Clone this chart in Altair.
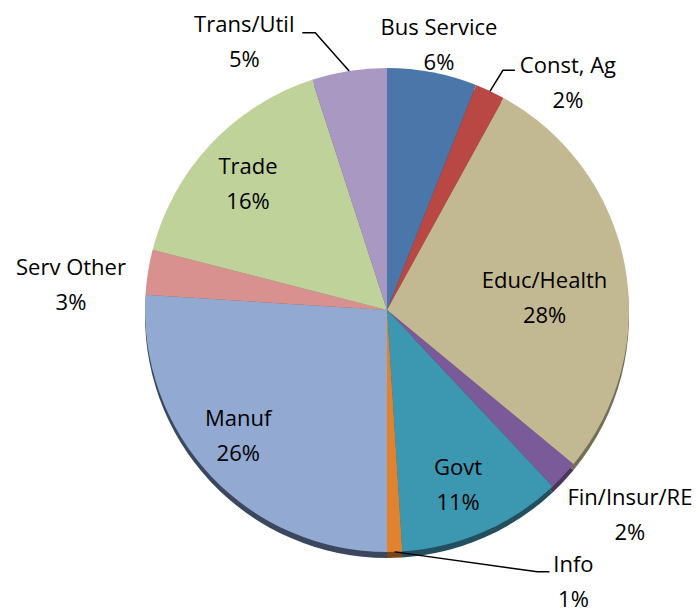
import math
import altair as alt
import pandas as pd

# ---- data ----
categories = ["Bus Service", "Const, Ag", "Educ/Health", "Fin/Insur/RE", "Govt",
              "Info", "Manuf", "Serv Other", "Trade", "Trans/Util"]
values = [6, 2, 28, 2, 11, 1, 26, 3, 16, 5]

# ---- styling ----
colors = ["#4A76AA", "#B94744", "#C2B992", "#7A5A98", "#3B98B0",
          "#E0822E", "#92A9D1", "#D8918F", "#BFD29A", "#A999C2"]
rim_colors = ["#2B4566", "#6E2A29", "#736E57", "#48365B", "#234F5E",
              "#7A4618", "#3A475E", "#7F5553", "#6F7C59", "#615A72"]

W, H = 684, 606
CX, CY = 379, 302
R = 242
LH = 35

# label layout: angular nudge (deg) from slice mid-angle, and radius (px)
label_nudge = [0.3, 13.4, 6.6, -3.0, 1.3, -32.6, 2.9, -4.5, -1.2, -19.1]
label_radius = [270, 290, 158, 318, 189, 330, 195, 317, 187, 303]

df = pd.DataFrame({"category": categories, "value": values,
                   "idx": list(range(len(categories)))})
total = float(sum(values))
cum = df["value"].cumsum()
df["mid_deg"] = (cum - df["value"] / 2) / total * 360.0

lab = df.copy()
lab["ang"] = lab["mid_deg"] + pd.Series(label_nudge)
lab["r"] = pd.Series(label_radius)
lab["lx"] = CX + lab["r"] * lab["ang"].map(lambda a: math.sin(math.radians(a)))
lab["ly"] = CY - lab["r"] * lab["ang"].map(lambda a: math.cos(math.radians(a)))
lab["text"] = [f"{c}\n{v}%" for c, v in zip(categories, values)]

# leader lines: from slice edge (mid-angle) to an elbow near the label
leader_spec = {
    "Trans/Util": (58, -10, 13),
    "Const, Ag": (-53, -13, -12),
    "Info": (-24, -10.5, -12),
}
rows = []
for cat, (ox, oy, el) in leader_spec.items():
    row = lab[lab["category"] == cat].iloc[0]
    a = math.radians(row["mid_deg"])
    sx, sy = CX + R * math.sin(a), CY - R * math.cos(a)
    ex, ey = row["lx"] + ox, row["ly"] + oy
    rows.append({"leader": cat, "pt": 0, "x": sx, "y": sy})
    rows.append({"leader": cat, "pt": 1, "x": ex + el, "y": ey})
    rows.append({"leader": cat, "pt": 2, "x": ex, "y": ey})
leaders = pd.DataFrame(rows)

rim = alt.Chart(df).mark_arc(radius=R, strokeWidth=0).encode(
    theta=alt.Theta("value:Q", stack=True),
    order=alt.Order("idx:Q"),
    color=alt.Color("category:N", scale=alt.Scale(domain=categories, range=rim_colors), legend=None),
    x=alt.value(CX),
    y=alt.value(CY + 6),
)

pie = alt.Chart(df).mark_arc(radius=R, strokeWidth=0).encode(
    theta=alt.Theta("value:Q", stack=True),
    order=alt.Order("idx:Q"),
    color=alt.Color("category:N", scale=alt.Scale(domain=categories, range=colors), legend=None),
    x=alt.value(CX),
    y=alt.value(CY),
)

lines = alt.Chart(leaders).mark_line(color="black", strokeWidth=1.5).encode(
    x=alt.X("x:Q", scale=None),
    y=alt.Y("y:Q", scale=None),
    detail="leader:N",
    order="pt:Q",
)

texts = alt.Chart(lab).mark_text(
    font="Open Sans", fontSize=22, color="black", align="center",
    baseline="middle", lineBreak="\n", lineHeight=LH, dy=-LH / 2,
).encode(
    x=alt.X("lx:Q", scale=None),
    y=alt.Y("ly:Q", scale=None),
    text="text:N",
)

chart = alt.layer(rim, pie, lines, texts).resolve_scale(color="independent").properties(
    width=W, height=H, padding=0,
    autosize=alt.AutoSizeParams(type="none"),
).configure_view(stroke=None)

chart.save("out.html", embed_options={"renderer": "svg", "actions": False})
